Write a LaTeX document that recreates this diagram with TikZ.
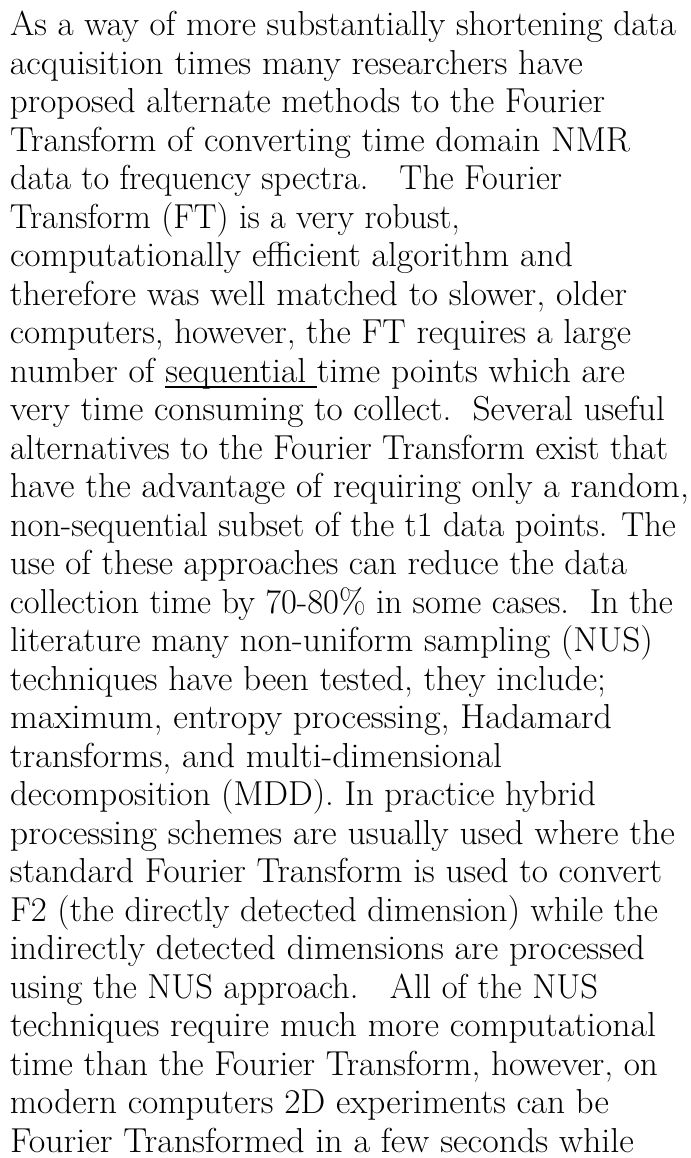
\documentclass[tikz,border=0pt]{standalone}
\usepackage{graphicx}
\newlength\lnw
\newlength\ulw
\newcommand\fitline[2]{\settowidth\lnw{#2}\pgfmathsetmacro\fitf{(#1-10)*0.75/\lnw}\scalebox{\fitf}[1]{#2}}
\newcommand\myul[1]{\settowidth\ulw{#1}\rlap{\rule[-4.6pt]{\ulw}{1.5pt}}#1}
\tikzset{txt/.style={anchor=base west, inner sep=0pt, outer sep=0pt, font=\fontsize{26}{30}\selectfont}}
\begin{document}
\begin{tikzpicture}[x=0.75pt,y=-0.75pt]
\useasboundingbox (0,0) rectangle (691,1158);
\def\bl#1{35.5+38.5*#1}
\node[txt] (l1) at (10,{\bl{0}}) {\fitline{676}{As a way of more substantially shortening data}};
\node[txt] (l2) at (10,{\bl{1}}) {\fitline{583}{acquisition times many researchers have}};
\node[txt] (l3) at (10,{\bl{2}}) {\fitline{605}{proposed alternate methods to the Fourier}};
\node[txt] (l4) at (10,{\bl{3}}) {\fitline{630}{Transform of converting time domain NMR}};
\node[txt] (l5) at (10,{\bl{4}}) {\fitline{562}{data to frequency spectra.\ \ \ The Fourier}};
\node[txt] (l6) at (10,{\bl{5}}) {\fitline{460}{Transform (FT) is a very robust,}};
\node[txt] (l7) at (10,{\bl{6}}) {\fitline{573}{computationally efficient algorithm and}};
\node[txt] (l8) at (10,{\bl{7}}) {\fitline{627}{therefore was well matched to slower, older}};
\node[txt] (l9) at (10,{\bl{8}}) {\fitline{631}{computers, however, the FT requires a large}};
\node[txt] (l10) at (10,{\bl{9}}) {\fitline{625}{number of \myul{sequential\ }time points which are}};
\node[txt] (l11) at (10,{\bl{10}}) {\fitline{665}{very time consuming to collect.\ \ Several useful}};
\node[txt] (l12) at (10,{\bl{11}}) {\fitline{668}{alternatives to the Fourier Transform exist that}};
\node[txt] (l13) at (10,{\bl{12}}) {\fitline{689}{have the advantage of requiring only a random,}};
\node[txt] (l14) at (10,{\bl{13}}) {\fitline{676}{non-sequential subset of the t1 data points. The}};
\node[txt] (l15) at (10,{\bl{14}}) {\fitline{627}{use of these approaches can reduce the data}};
\node[txt] (l16) at (10,{\bl{15}}) {\fitline{673}{collection time by 70-80\% in some cases.\ \ In the}};
\node[txt] (l17) at (10,{\bl{16}}) {\fitline{653}{literature many non-uniform sampling (NUS)}};
\node[txt] (l18) at (10,{\bl{17}}) {\fitline{606}{techniques have been tested, they include;}};
\node[txt] (l19) at (10,{\bl{18}}) {\fitline{612}{maximum, entropy processing, Hadamard}};
\node[txt] (l20) at (10,{\bl{19}}) {\fitline{502}{transforms, and multi-dimensional}};
\node[txt] (l21) at (10,{\bl{20}}) {\fitline{596}{decomposition (MDD). In practice hybrid}};
\node[txt] (l22) at (10,{\bl{21}}) {\fitline{675}{processing schemes are usually used where the}};
\node[txt] (l23) at (10,{\bl{22}}) {\fitline{662}{standard Fourier Transform is used to convert}};
\node[txt] (l24) at (10,{\bl{23}}) {\fitline{658}{F2 (the directly detected dimension) while the}};
\node[txt] (l25) at (10,{\bl{24}}) {\fitline{645}{indirectly detected dimensions are processed}};
\node[txt] (l26) at (10,{\bl{25}}) {\fitline{598}{using the NUS approach.\ \ \ All of the NUS}};
\node[txt] (l27) at (10,{\bl{26}}) {\fitline{656}{techniques require much more computational}};
\node[txt] (l28) at (10,{\bl{27}}) {\fitline{658}{time than the Fourier Transform, however, on}};
\node[txt] (l29) at (10,{\bl{28}}) {\fitline{609}{modern computers 2D experiments can be}};
\node[txt] (l30) at (10,{\bl{29}}) {\fitline{634}{Fourier Transformed in a few seconds while}};
\end{tikzpicture}
\end{document}
